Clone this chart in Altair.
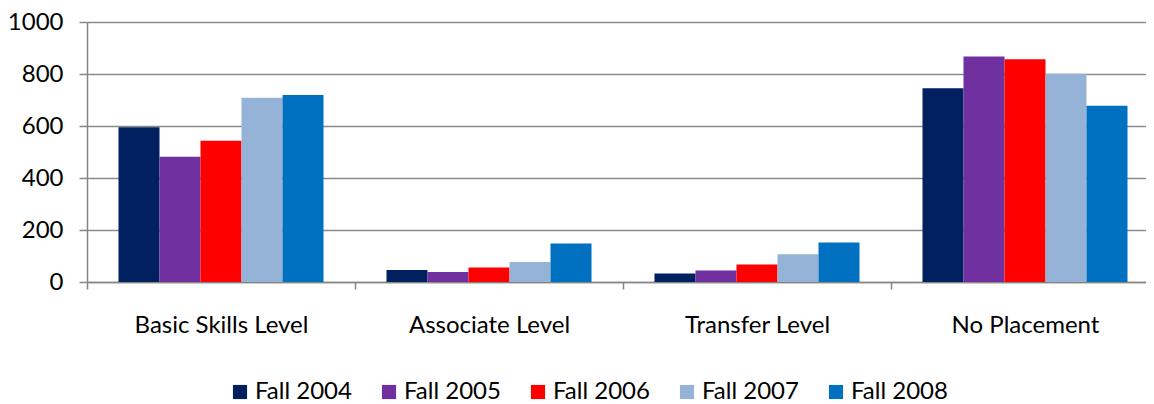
import altair as alt
import pandas as pd

categories = ["Basic Skills Level", "Associate Level", "Transfer Level", "No Placement"]
series = ["Fall 2004", "Fall 2005", "Fall 2006", "Fall 2007", "Fall 2008"]
colors = ["#002060", "#7030A0", "#FF0000", "#95B3D7", "#0070C0"]

fall_2004 = [595, 46, 33, 745]
fall_2005 = [482, 38, 44, 867]
fall_2006 = [543, 56, 67, 857]
fall_2007 = [709, 77, 107, 801]
fall_2008 = [719, 148, 152, 678]
y_ticks = [0, 200, 400, 600, 800, 1000]

values = [fall_2004, fall_2005, fall_2006, fall_2007, fall_2008]
rows = []
for s, vals in zip(series, values):
    for c, v in zip(categories, vals):
        rows.append({"category": c, "series": s, "value": v})
df = pd.DataFrame(rows)

FONT = "Lato"
FS = 24

chart = alt.Chart(df).mark_bar().encode(
    x=alt.X("category:N", sort=categories, title=None,
            scale=alt.Scale(paddingInner=0, paddingOuter=0, range=[0, 1072]),
            axis=alt.Axis(labelAngle=0, tickBand="extent", tickSize=7,
                          labelPadding=24, labelFontSize=FS, labelFont=FONT,
                          labelColor="#000000", domainColor="#868686",
                          tickColor="#868686", domainWidth=1.5, tickWidth=1.5,
                          grid=False)),
    xOffset=alt.XOffset("series:N", sort=series,
                        scale=alt.Scale(paddingInner=0, paddingOuter=0.768)),
    y=alt.Y("value:Q", title=None,
            scale=alt.Scale(domain=[0, 1000]),
            axis=alt.Axis(values=y_ticks, format="d", tickSize=8, labelPadding=16,
                          labelFontSize=FS, labelFont=FONT, labelColor="#000000",
                          domainColor="#868686", tickColor="#868686",
                          domainWidth=1.5, tickWidth=1.5,
                          gridColor="#8a8a8a", gridWidth=1.5)),
    color=alt.Color("series:N", sort=series,
                    scale=alt.Scale(domain=series, range=colors),
                    legend=alt.Legend(title=None, orient="none", direction="horizontal",
                                      legendX=141, legendY=358,
                                      symbolType="square", symbolSize=200,
                                      symbolStrokeWidth=0, symbolOpacity=1,
                                      labelFontSize=FS, labelFont=FONT,
                                      labelColor="#000000", columnPadding=25,
                                      labelOffset=3, padding=0, labelLimit=200)),
).properties(
    width=1059, height=260,
    autosize=alt.AutoSizeParams(type="none"),
    padding={"left": 79, "top": 14, "right": 0, "bottom": 122},
).configure_view(stroke=None).configure(background="#ffffff")

chart.save("out.html", embed_options={"renderer": "svg", "actions": False})
